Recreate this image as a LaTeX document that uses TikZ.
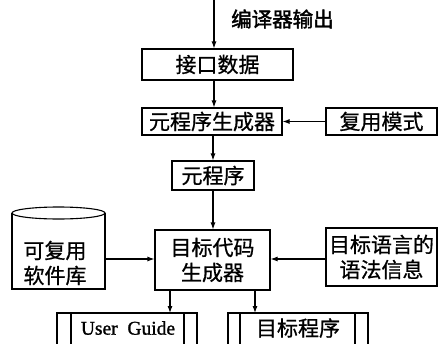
\documentclass[tikz,border=0pt]{standalone}
\usepackage{fontspec}
\newfontfamily\cjk{Noto Sans CJK SC}[FakeBold=0.8]
\newfontfamily\cjkb{Noto Sans CJK SC}[FakeBold=2]
\newfontfamily\ser{Liberation Serif}[FakeBold=1.2]
\usetikzlibrary{arrows.meta}
\begin{document}
\begin{tikzpicture}[x=1pt,y=-1pt,
  txt/.style={font=\cjk\fontsize{21}{25}\selectfont,align=center},
  box/.style={draw,line width=1.1pt,rectangle,inner sep=0pt,txt},
  arr/.style={line width=1.1pt,-{Latex[length=7pt,width=5pt]}},
  ln/.style={line width=1.1pt}]
\clip (0,0) rectangle (439,343);
\fill[white] (0,0) rectangle (439,343);
\coordinate (in) at (214,0);
\node[box,minimum width=151pt,minimum height=31pt] (jk) at (217.5,64.5) {接口数据};
\node[font=\cjkb\fontsize{20.5}{24}\selectfont,anchor=west,inner sep=0pt] (lbl) at (231,19) {编译器输出};
\node[box,minimum width=140pt,minimum height=27pt] (ysg) at (212,121.5) {元程序生成器};
\node[box,minimum width=111pt,minimum height=27pt] (fy) at (381.5,121.5) {复用模式};
\node[box,minimum width=82pt,minimum height=29pt] (ycx) at (213,175.5) {元程序};
\node[box,minimum width=115pt,minimum height=60pt] (mb) at (212.5,260) {目标代码\\生成器};
\node[box,minimum width=111pt,minimum height=58pt] (yf) at (381.5,257) {目标语言的\\语法信息};
% cylinder
\node[rectangle,draw=none,minimum width=93pt,minimum height=76pt,inner sep=0pt] (cyl) at (58.5,251) {};
\node[txt] at (55,263) {可复用\\软件库};
\draw[ln] (12,213) -- (12,289) -- (105,289) -- (105,213);
\draw[ln] (58.5,213) ellipse [x radius=46.5pt,y radius=6pt];
% output boxes
\node[rectangle,draw=none,minimum width=140pt,minimum height=40pt,inner sep=0pt,anchor=north] (ug) at (127,313) {};
\node[font=\ser\fontsize{19.5}{23}\selectfont] at (128,328) {User\ \ Guide};
\draw[ln] (57,350) -- (57,313) -- (197,313) -- (197,350);
\draw[ln] (71,313) -- (71,350) (184,313) -- (184,350);
\node[rectangle,draw=none,minimum width=140pt,minimum height=40pt,inner sep=0pt,anchor=north] (mc) at (298,313) {};
\node[txt] at (298,328) {目标程序};
\draw[ln] (228,350) -- (228,313) -- (368,313) -- (368,350);
\draw[ln] (240,313) -- (240,350) (355,313) -- (355,350);
% connectors
\draw[arr] (in) -- (jk.north -| in);
\draw[arr] (jk.south -| in) -- (ysg.north -| in);
\draw[arr] (fy.west) -- (ysg.east);
\draw[arr] (ysg.south -| ycx) -- (ycx.north);
\draw[arr] (ycx.south) -- (mb.north -| ycx);
\draw[arr] (cyl.east |- 0,259) -- (mb.west |- 0,259);
\draw[arr] (yf.west |- 0,259) -- (mb.east |- 0,259);
\draw[arr] (mb.south -| 170,0) -- (ug.north -| 170,0);
\draw[arr] (mb.south -| 255,0) -- (mc.north -| 255,0);
\end{tikzpicture}
\end{document}
